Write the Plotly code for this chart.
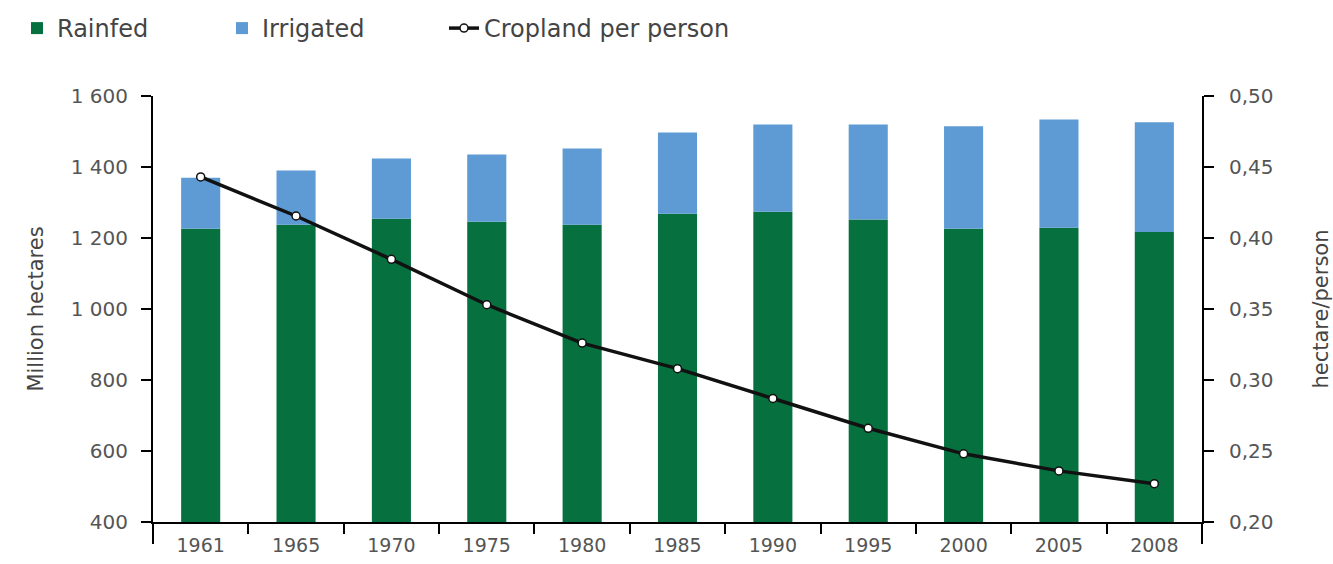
import plotly.graph_objects as go

years = ["1961", "1965", "1970", "1975", "1980", "1985", "1990", "1995", "2000", "2005", "2008"]
rainfed = [1226, 1237, 1254, 1246, 1237, 1268, 1274, 1252, 1226, 1229, 1217]
total = [1370, 1390, 1424, 1435, 1452, 1497, 1520, 1520, 1515, 1534, 1526]
irrigated = [t - r for t, r in zip(total, rainfed)]
cropland_per_person = [0.443, 0.4155, 0.385, 0.353, 0.326, 0.308, 0.287, 0.266, 0.248, 0.236, 0.227]

GREEN = "#07703F"
BLUE = "#5E9BD5"
TXT = "#555555"
FONT = "'DejaVu Sans', sans-serif"

fig = go.Figure()
fig.add_trace(go.Bar(x=years, y=rainfed, name="Rainfed", legend="legend",
                     marker=dict(color=GREEN, line=dict(width=0))))
fig.add_trace(go.Bar(x=years, y=irrigated, base=rainfed, name="Irrigated", legend="legend2",
                     marker=dict(color=BLUE, line=dict(width=0))))
fig.add_trace(go.Scatter(x=years, y=cropland_per_person, name="Cropland per person", yaxis="y2",
                         legend="legend3", mode="lines+markers",
                         line=dict(color="#111111", width=3.5),
                         marker=dict(symbol="circle", size=8, color="white",
                                     line=dict(color="#111111", width=1.5))))

W, H = 1333, 564
L, R, T, B = 153, 131, 96, 42
pw, ph = W - L - R, H - T - B

axis_common = dict(showline=True, linecolor="black", linewidth=2, ticks="outside",
                   ticklen=10, tickwidth=2, tickcolor="black", showgrid=False, zeroline=False,
                   automargin=False)


def leg(xpx):
    return dict(orientation="h", xref="container", yref="container", x=xpx / W, y=1 - 6 / H,
                xanchor="left", yanchor="top", font=dict(size=24, color="#444444"),
                bgcolor="rgba(0,0,0,0)")


fig.update_layout(
    width=W, height=H,
    margin=dict(l=L, r=R, t=T, b=B, pad=0, autoexpand=False),
    paper_bgcolor="white", plot_bgcolor="white",
    barmode="overlay", bargap=0.59,
    separators=", ",
    font=dict(family=FONT, color=TXT, size=20),
    showlegend=True,
    legend=leg(17), legend2=leg(222), legend3=leg(444),
    xaxis=dict(type="category", tickson="boundaries", range=[-0.5, len(years) - 0.5],
               tickfont=dict(size=19, color=TXT), ticklabelstandoff=5, **axis_common),
    yaxis=dict(range=[400, 1600], dtick=200, tickformat=",d", tickfont=dict(size=20, color=TXT),
               title=dict(text="Million hectares", font=dict(size=21, color="#444444"), standoff=21),
               ticklabelstandoff=9, **axis_common),
    yaxis2=dict(range=[0.2, 0.5], dtick=0.05, tickformat=".2f", overlaying="y", side="right",
                tickfont=dict(size=20, color=TXT),
                title=dict(text="hectare/person", font=dict(size=21, color="#444444"), standoff=41),
                ticklabelstandoff=11, **axis_common),
)

ext_x = 10 / pw
ext_y = 22 / ph
for x0, y0, x1, y1 in [(0, 0, 0, -ext_y), (-ext_x, 0, 0, 0), (1, 0, 1, -ext_y), (1, 0, 1 + ext_x, 0)]:
    fig.add_shape(type="line", xref="paper", yref="paper", x0=x0, y0=y0, x1=x1, y1=y1,
                  line=dict(color="black", width=2), layer="above")

fig.write_html("out.html")
